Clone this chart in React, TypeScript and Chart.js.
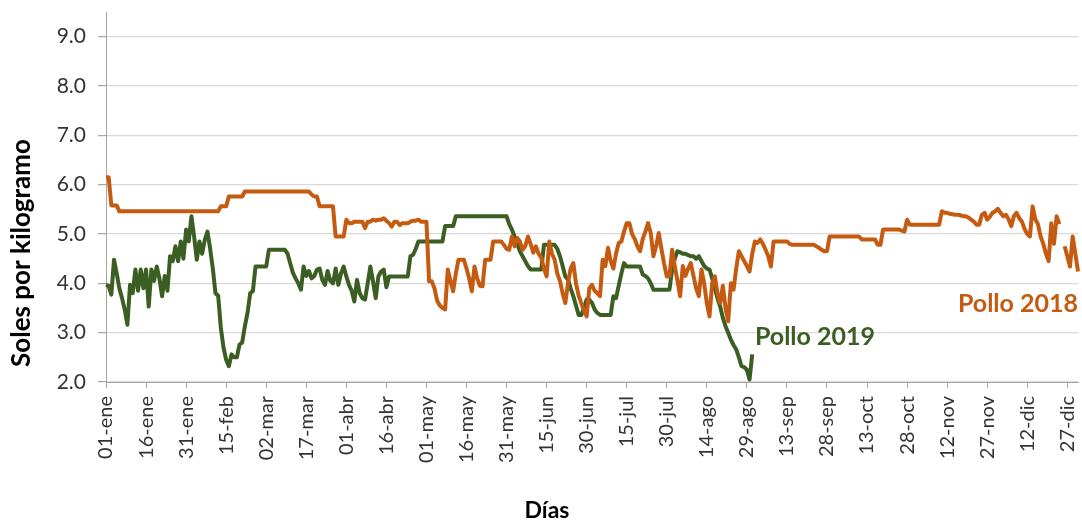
import React, { useEffect, useRef } from "react";
import { Chart, registerables } from "chart.js";

Chart.register(...registerables);

// ---- categories (days of the year) ----
const MONTHS = ["ene", "feb", "mar", "abr", "may", "jun", "jul", "ago", "sep", "oct", "nov", "dic"];
const MONTH_DAYS = [31, 28, 31, 30, 31, 30, 31, 31, 30, 31, 30, 31];
const DAY_LABELS: string[] = [];
MONTHS.forEach((m, i) => {
  for (let d = 1; d <= MONTH_DAYS[i]; d++) DAY_LABELS.push(`${String(d).padStart(2, "0")}-${m}`);
});
const TICK_STEP = 15;

// ---- y axis ----
const Y_MIN = 2;
const Y_MAX = 9.5;
const Y_LAST_TICK = 9;

// ---- series (soles por kilogramo), one value per day ----
const POLLO_2018: (number | null)[] = [
  6.15, 6.15, 5.58, 5.58, 5.58, 5.46, 5.46, 5.46, 5.46, 5.46, 5.46, 5.46, 5.46, 5.46, 5.46,
  5.46, 5.46, 5.46, 5.46, 5.46, 5.46, 5.46, 5.46, 5.46, 5.46, 5.46, 5.46, 5.46, 5.46, 5.46,
  5.46, 5.46, 5.46, 5.46, 5.46, 5.46, 5.46, 5.46, 5.46, 5.46, 5.46, 5.46, 5.46, 5.56, 5.56,
  5.56, 5.76, 5.76, 5.76, 5.76, 5.76, 5.76, 5.86, 5.86, 5.86, 5.86, 5.86, 5.86, 5.86, 5.86,
  5.86, 5.86, 5.86, 5.86, 5.86, 5.86, 5.86, 5.86, 5.86, 5.86, 5.86, 5.86, 5.86, 5.86, 5.86,
  5.86, 5.86, 5.80, 5.76, 5.76, 5.56, 5.56, 5.56, 5.56, 5.56, 5.56, 4.95, 4.95, 4.95, 4.95,
  5.29, 5.22, 5.22, 5.25, 5.25, 5.25, 5.25, 5.12, 5.25, 5.25, 5.29, 5.27, 5.29, 5.29, 5.32,
  5.27, 5.22, 5.15, 5.25, 5.25, 5.18, 5.22, 5.22, 5.22, 5.25, 5.27, 5.27, 5.29, 5.25, 5.25,
  5.25, 4.04, 4.04, 3.9, 3.65, 3.55, 3.5, 3.47, 4.28, 4.05, 3.84, 4.2, 4.48, 4.48, 4.48,
  4.3, 4.1, 3.84, 4.34, 4.1, 3.95, 3.94, 4.48, 4.48, 4.48, 4.85, 4.85, 4.85, 4.85, 4.78,
  4.7, 4.68, 4.95, 4.75, 4.92, 4.85, 4.68, 4.75, 4.95, 4.8, 4.62, 4.75, 4.6, 4.52, 4.3,
  4.14, 4.85, 4.6, 4.48, 4.2, 4.05, 3.8, 3.6, 4.0, 4.3, 4.41, 4.0, 3.75, 3.6, 3.45,
  3.33, 3.9, 3.97, 3.85, 3.8, 3.74, 4.48, 4.35, 4.72, 4.45, 4.3, 4.6, 4.82, 4.85, 5.05,
  5.22, 5.22, 5.0, 4.9, 4.75, 4.65, 4.9, 5.05, 5.22, 5.02, 4.55, 4.75, 5.02, 4.7, 4.4,
  4.14, 4.14, 4.68, 4.35, 4.05, 3.74, 4.35, 4.15, 4.3, 4.41, 4.15, 3.9, 3.74, 4.28, 4.0,
  3.6, 3.33, 4.0, 4.14, 3.8, 3.6, 3.95, 3.5, 3.23, 4.0, 3.87, 4.3, 4.65, 4.55, 4.45,
  4.35, 4.24, 4.6, 4.85, 4.82, 4.89, 4.8, 4.68, 4.55, 4.34, 4.85, 4.85, 4.85, 4.85, 4.85,
  4.85, 4.8, 4.78, 4.78, 4.78, 4.78, 4.78, 4.78, 4.78, 4.78, 4.78, 4.75, 4.72, 4.68, 4.65,
  4.65, 4.95, 4.95, 4.95, 4.95, 4.95, 4.95, 4.95, 4.95, 4.95, 4.95, 4.95, 4.95, 4.89, 4.89,
  4.89, 4.89, 4.89, 4.89, 4.78, 4.78, 5.09, 5.09, 5.09, 5.09, 5.09, 5.09, 5.09, 5.07, 5.05,
  5.29, 5.19, 5.19, 5.19, 5.19, 5.19, 5.19, 5.19, 5.19, 5.19, 5.19, 5.19, 5.19, 5.46, 5.43,
  5.43, 5.41, 5.40, 5.39, 5.39, 5.38, 5.36, 5.36, 5.33, 5.29, 5.25, 5.19, 5.19, 5.39, 5.43,
  5.29, 5.35, 5.43, 5.46, 5.51, 5.43, 5.36, 5.39, 5.3, 5.16, 5.36, 5.43, 5.32, 5.25, 5.1,
  5.0, 4.95, 5.56, 5.3, 5.2, 4.95, 4.8, 4.6, 4.45, 5.22, 4.8, 5.36, 5.2, null, 4.75,
  4.55, 4.34, 4.95, 4.6, 4.24,
];

const POLLO_2019: number[] = [
  3.97, 3.95, 3.77, 4.48, 4.2, 3.9, 3.7, 3.47, 3.16, 3.97, 3.8, 4.28, 3.85, 4.28, 3.9,
  4.28, 3.53, 4.28, 4.05, 4.34, 4.1, 3.74, 4.15, 3.85, 4.55, 4.45, 4.75, 4.45, 4.85, 4.5,
  5.09, 4.85, 5.36, 4.95, 4.48, 4.85, 4.6, 4.88, 5.05, 4.7, 4.3, 3.8, 3.75, 3.1, 2.7,
  2.45, 2.32, 2.56, 2.5, 2.5, 2.76, 2.8, 3.13, 3.4, 3.8, 3.84, 4.34, 4.34, 4.34, 4.34,
  4.34, 4.68, 4.68, 4.68, 4.68, 4.68, 4.68, 4.68, 4.6, 4.4, 4.21, 4.1, 4.0, 3.87, 4.34,
  4.15, 4.25, 4.1, 4.15, 4.28, 4.3, 4.07, 3.97, 4.25, 4.05, 4.0, 4.3, 3.97, 4.2, 4.34,
  4.14, 3.97, 3.85, 3.63, 4.07, 3.8, 3.7, 3.67, 4.0, 4.34, 4.04, 3.7, 4.14, 4.24, 4.28,
  3.92, 4.14, 4.14, 4.14, 4.14, 4.14, 4.14, 4.14, 4.14, 4.55, 4.58, 4.7, 4.85, 4.85, 4.85,
  4.85, 4.85, 4.85, 4.85, 4.85, 4.85, 4.85, 5.16, 5.16, 5.16, 5.16, 5.36, 5.36, 5.36, 5.36,
  5.36, 5.36, 5.36, 5.36, 5.36, 5.36, 5.36, 5.36, 5.36, 5.36, 5.36, 5.36, 5.36, 5.36, 5.36,
  5.36, 5.2, 5.09, 4.95, 4.8, 4.65, 4.55, 4.45, 4.35, 4.28, 4.28, 4.28, 4.28, 4.28, 4.78,
  4.78, 4.78, 4.78, 4.78, 4.7, 4.55, 4.35, 4.14, 4.08, 3.9, 3.74, 3.55, 3.36, 3.36, 3.5,
  3.67, 3.67, 3.6, 3.47, 3.4, 3.36, 3.36, 3.36, 3.36, 3.36, 3.74, 3.7, 3.95, 4.2, 4.41,
  4.34, 4.34, 4.34, 4.34, 4.34, 4.34, 4.18, 4.15, 4.1, 4.0, 3.87, 3.87, 3.87, 3.87, 3.87,
  3.87, 3.87, 4.28, 4.5, 4.65, 4.63, 4.6, 4.6, 4.57, 4.55, 4.55, 4.5, 4.55, 4.45, 4.35,
  4.3, 4.28, 4.1, 3.9, 3.7, 3.53, 3.3, 3.13, 3.0, 2.86, 2.75, 2.66, 2.5, 2.32, 2.3,
  2.25, 2.05, 2.56,
];

const SERIES_NAMES = ["Pollo 2018", "Pollo 2019"];
const SERIES_COLORS = ["#C55A11", "#3B5E22"];
const Y_TITLE = "Soles por kilogramo";
const X_TITLE = "Días";
const FONT = "Lato, 'Open Sans', sans-serif";

const textPlugin = {
  id: "chartTexts",
  afterDraw(chart: any) {
    const { ctx, scales } = chart;
    const xs = scales.x;
    const ys = scales.y;
    ctx.save();
    // axis titles
    ctx.fillStyle = "#000000";
    ctx.font = `bold 23px ${FONT}`;
    ctx.textAlign = "center";
    ctx.textBaseline = "alphabetic";
    ctx.fillText(X_TITLE, 547, 518);
    ctx.save();
    ctx.translate(30, 253);
    ctx.rotate(-Math.PI / 2);
    ctx.font = `bold 26px ${FONT}`;
    ctx.fillText(Y_TITLE, 0, 0);
    ctx.restore();
    // series labels
    ctx.font = `bold 25px ${FONT}`;
    ctx.fillStyle = SERIES_COLORS[1];
    ctx.textAlign = "left";
    ctx.fillText(SERIES_NAMES[1], xs.getPixelForValue(243), ys.getPixelForValue(2.74));
    ctx.fillStyle = SERIES_COLORS[0];
    ctx.textAlign = "right";
    ctx.fillText(SERIES_NAMES[0], xs.getPixelForValue(364), ys.getPixelForValue(3.42));
    ctx.restore();
  },
};

export default function App() {
  const ref = useRef<HTMLCanvasElement | null>(null);
  useEffect(() => {
    if (!ref.current) return;
    const chart = new Chart(ref.current, {
      type: "line",
      data: {
        labels: DAY_LABELS,
        datasets: [
          {
            label: SERIES_NAMES[0],
            data: POLLO_2018,
            borderColor: SERIES_COLORS[0],
            backgroundColor: SERIES_COLORS[0],
            borderWidth: 4,
            pointRadius: 0,
            tension: 0,
            spanGaps: false,
            borderJoinStyle: "round",
          },
          {
            label: SERIES_NAMES[1],
            data: POLLO_2019,
            borderColor: SERIES_COLORS[1],
            backgroundColor: SERIES_COLORS[1],
            borderWidth: 4,
            pointRadius: 0,
            tension: 0,
            borderJoinStyle: "round",
          },
        ],
      },
      options: {
        animation: false,
        responsive: true,
        maintainAspectRatio: false,
        layout: { padding: { top: 12, right: 4, left: 0, bottom: 0 } },
        plugins: { legend: { display: false }, tooltip: { enabled: false } },
        scales: {
          x: {
            type: "category",
            afterBuildTicks: (scale: any) => {
              scale.ticks = scale.ticks.filter((t: any) => t.value % TICK_STEP === 0);
            },
            afterFit: (scale: any) => {
              scale.height = 139;
              scale.paddingLeft = 0;
              scale.paddingRight = 0;
            },
            ticks: {
              autoSkip: false,
              maxRotation: 90,
              minRotation: 90,
              padding: 8,
              color: "#333333",
              font: { family: FONT, size: 20 },
            },
            grid: { drawOnChartArea: false, tickLength: 6, tickColor: "#A6A6A6" },
            border: { color: "#A6A6A6", width: 1 },
          },
          y: {
            type: "linear",
            min: Y_MIN,
            max: Y_MAX,
            afterBuildTicks: (scale: any) => {
              scale.ticks = scale.ticks.filter((t: any) => t.value <= Y_LAST_TICK);
            },
            afterFit: (scale: any) => {
              scale.width = 106;
              scale.paddingTop = 0;
              scale.paddingBottom = 0;
            },
            ticks: {
              stepSize: 1,
              padding: 12,
              color: "#333333",
              font: { family: FONT, size: 21 },
              callback: (v: any) => Number(v).toFixed(1),
            },
            grid: { color: "#D9D9D9", tickLength: 8, tickColor: "#A6A6A6", lineWidth: 1.2 },
            border: { color: "#A6A6A6", width: 1 },
          },
        },
      },
      plugins: [textPlugin],
    });
    return () => chart.destroy();
  }, []);
  return (
    <div style={{ position: "fixed", left: 0, top: 0, width: 1082, height: 521, background: "#fff" }}>
      <canvas ref={ref} />
    </div>
  );
}
